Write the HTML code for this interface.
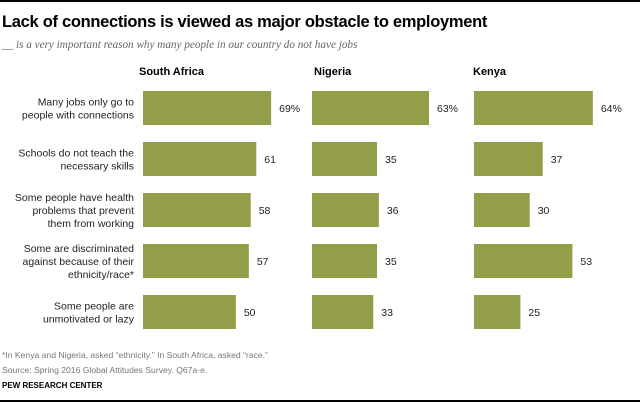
<!DOCTYPE html>
<html><head><meta charset="utf-8"><style>
body{margin:0;width:640px;height:403px;background:#fff;font-family:"Liberation Sans",sans-serif;position:relative;overflow:hidden}
.t{position:absolute;white-space:nowrap}
</style></head><body>
<div style="position:absolute;left:0;top:0;width:640px;height:2px;background:#000"></div>
<div class="t" style="left:2px;top:13px;font-size:16.5px;font-weight:bold;color:#000;letter-spacing:-0.3px">Lack of connections is viewed as major obstacle to employment</div>
<div class="t" style="left:2px;top:39px;font-size:11.2px;font-style:italic;color:#666;font-family:'Liberation Serif',serif">__ is a very important reason why many people in our country do not have jobs</div>
<svg id="chart" width="640" height="403" style="position:absolute;left:0;top:0"></svg>
<div class="t" style="left:2px;top:348px;font-size:8.6px;color:#777;line-height:15px">*In Kenya and Nigeria, asked “ethnicity.” In South Africa, asked “race.”<br>Source: Spring 2016 Global Attitudes Survey. Q67a-e.</div>
<div class="t" style="left:2px;top:381px;font-size:8px;color:#000;font-weight:bold">PEW RESEARCH CENTER</div>
<div style="position:absolute;left:0;top:400px;width:640px;height:2px;background:#000"></div>
<script>
const countries=["South Africa","Nigeria","Kenya"];
const categories=[["Many jobs only go to","people with connections"],["Schools do not teach the","necessary skills"],["Some people have health","problems that prevent","them from working"],["Some are discriminated","against because of their","ethnicity/race*"],["Some people are","unmotivated or lazy"]];
const southAfrica=[69,61,58,57,50];
const nigeria=[63,35,36,35,33];
const kenya=[64,37,30,53,25];
const series=[southAfrica,nigeria,kenya];
const ns="http://www.w3.org/2000/svg";
const svg=document.getElementById("chart");
const panelX=[143,312,474], headerX=[139,314,473];
const scale=1.857;
const xPos=(p,v)=>panelX[p]+v*scale;
const yPos=i=>91+i*51;
const barH=34;
function txt(x,y,s,attrs){const t=document.createElementNS(ns,"text");t.setAttribute("x",x);t.setAttribute("y",y);t.textContent=s;for(const k in attrs)t.setAttribute(k,attrs[k]);svg.appendChild(t);return t;}
countries.forEach((c,p)=>{
 const h=txt(headerX[p],75,c,{"font-size":"11","font-weight":"bold","fill":"#000","font-family":"Liberation Sans, sans-serif"});
 
 
});
categories.forEach((lines,i)=>{
 const cy=yPos(i)+barH/2;
 const start=cy-(lines.length-1)*13/2+4;
 lines.forEach((l,j)=>{
  const t=txt(134,start+j*13,l,{"font-size":"10.5","fill":"#222","text-anchor":"end","font-family":"Liberation Sans, sans-serif"});
  
  
 });
});
series.forEach((vals,p)=>{
 vals.forEach((v,i)=>{
  const r=document.createElementNS(ns,"rect");
  r.setAttribute("x",panelX[p]);r.setAttribute("y",yPos(i));
  r.setAttribute("width",xPos(p,v)-panelX[p]);r.setAttribute("height",barH);
  r.setAttribute("fill","#949d48");
  
  
  svg.appendChild(r);
  const t=txt(xPos(p,v)+8,yPos(i)+barH/2+4,(i===0?v+"%":String(v)),{"font-size":"10.5","fill":"#222","font-family":"Liberation Sans, sans-serif"});
  
  
 });
});
</script>
</body></html>
